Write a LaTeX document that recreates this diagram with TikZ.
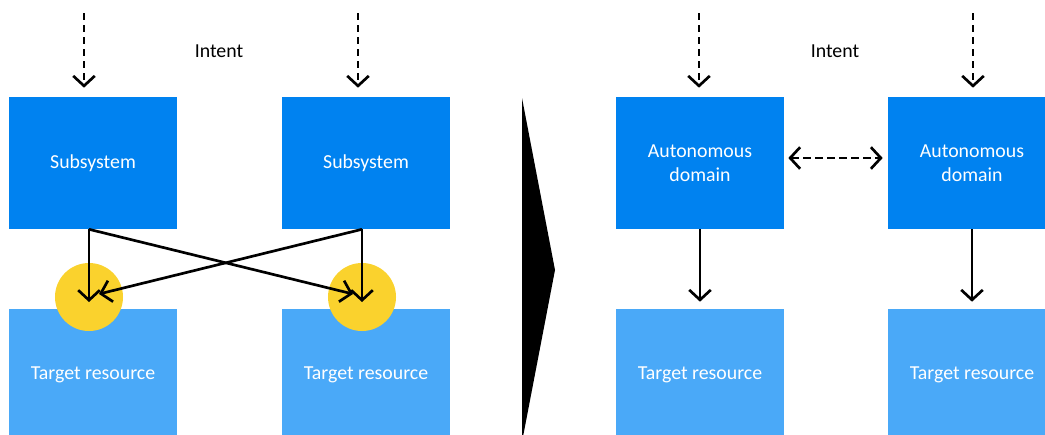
\documentclass[tikz,border=0pt]{standalone}
\usepackage{fontspec}
\setmainfont{Carlito}
\usetikzlibrary{arrows.meta,calc}

\definecolor{boxblue}{RGB}{0,130,240}
\definecolor{resblue}{RGB}{74,169,248}
\definecolor{hotspot}{RGB}{250,210,45}

\tikzset{
  barb/.tip={Straight Barb[length=2.5mm,width=5.4mm]},
  box/.style={fill=boxblue, text=white, minimum width=4.2cm, minimum height=3.3cm,
    inner sep=0pt, align=center},
  resbox/.style={box, fill=resblue},
  conflict/.style={circle, fill=hotspot, minimum size=1.7cm, inner sep=0pt},
  link/.style={line width=1.9pt, -barb},
  intent/.style={link, dash pattern=on 0.18cm off 0.12cm},
}

\begin{document}
\begin{tikzpicture}[x=0.025cm, y=-0.025cm,
    every node/.style={font=\fontsize{14.1}{16.8}\selectfont}]
  % 画面大小
  \useasboundingbox (0,0) rectangle (1045,434);

  % 左边:子系统、目标资源
  \node[box] (sub1) at (93,163) {Subsystem};
  \node[box] (sub2) at (366,163) {Subsystem};
  \node[resbox] (res1) at (93,375) {Target resource};
  \node[resbox] (res2) at (366,375) {Target resource};
  % 冲突点
  \node[conflict] (hot1) at (89,297) {};
  \node[conflict] (hot2) at (362,297) {};

  % 中间的三角形
  \fill (522,98) -- (555,270) -- (522,442) -- cycle;

  % 右边:自治域
  \node[box] (dom1) at (700,163) {Autonomous\\domain};
  \node[box] (dom2) at (972,163) {Autonomous\\domain};
  \node[resbox] (res3) at (700,375) {Target resource};
  \node[resbox] (res4) at (972,375) {Target resource};

  % Intent
  \node (intent1) at (219,51) {Intent};
  \node (intent2) at (835,51) {Intent};
  \foreach \c/\x in {in1/84, in2/358, in3/699, in4/973}
    \coordinate (\c) at (\x,13);
  \foreach \c/\b in {in1/sub1, in2/sub2, in3/dom1, in4/dom2}
    \draw[intent, shorten >=0.225cm] (\c) -- (\c |- \b.north);

  % 子系统 -> 目标资源(交叉)
  \draw[link] (sub1.south -| hot1) -- ($(hot1)+(0,5)$);
  \draw[link] (sub2.south -| hot2) -- ($(hot2)+(0,5)$);
  \draw[link] (sub1.south -| hot1) -- ($(hot2)+(-9,-3)$);
  \draw[link] (sub2.south -| hot2) -- ($(hot1)+(10,-3)$);

  % 自治域 -> 目标资源
  \foreach \a/\b in {dom1/res3, dom2/res4}
    \draw[link, shorten >=0.175cm] (\a.south) -- (\b.north);
  \draw[intent, barb-barb, shorten <=0.1cm, shorten >=0.125cm]
    ($(dom1.east)+(0,-5)$) -- ($(dom2.west)+(0,-5)$);

\end{tikzpicture}
\end{document}
